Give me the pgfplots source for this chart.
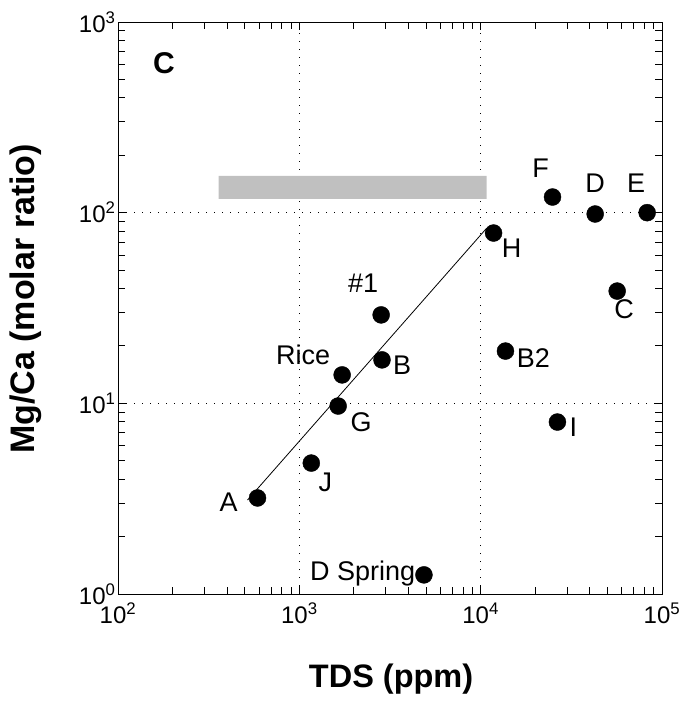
\documentclass[border=0pt]{standalone}
\usepackage{fontspec}
\setmainfont{Liberation Sans}
\usepackage{pgfplots}
\pgfplotsset{compat=1.18}
\definecolor{boxgray}{RGB}{192,192,192}
\begin{document}
\begin{tikzpicture}
\begin{axis}[
  scale only axis,
  width=544pt, height=572pt,
  xmode=log, ymode=log,
  xmin=100, xmax=100000, ymin=1, ymax=1000,
  xtick={100,1000,10000,100000},
  xticklabels={10\textsuperscript{2},10\textsuperscript{3},10\textsuperscript{4},10\textsuperscript{5}},
  ytick={1,10,100,1000},
  yticklabels={10\textsuperscript{0},10\textsuperscript{1},10\textsuperscript{2},10\textsuperscript{3}},
  tick label style={font=\fontsize{24}{28}\selectfont},
  xticklabel style={yshift=-5pt},
  yticklabel style={xshift=1pt},
  axis line style={line width=1pt},
  major tick length=8pt, minor tick length=7pt,
  every tick/.style={black, line width=0.9pt},
  grid=major,
  major grid style={black, line width=1pt, dash pattern=on 1.2pt off 6.8pt},
  xlabel={TDS (ppm)},
  ylabel={Mg/Ca (molar ratio)},
  every axis x label/.style={at={(axis description cs:0.502,-0.149)}, anchor=center, font=\fontsize{32.5}{36}\selectfont\bfseries},
  every axis y label/.style={at={(axis description cs:-0.169,0.516)}, anchor=center, rotate=90, font=\fontsize{34}{38}\selectfont\bfseries},
  clip=false,
]
\addplot[fill=boxgray, draw=none] coordinates {(359,118) (10800,118) (10800,156) (359,156) (359,118)};
\addplot[black, line width=0.8pt] coordinates {(518,3.11) (10800,83)};
\addplot[only marks, mark=*, mark size=8.5pt, black] coordinates {
(588,3.19) (1164,4.86) (1637,9.68) (1722,14.1) (2857,16.9) (2826,29.1)
(4866,1.26) (11780,78.2) (24900,120.8) (42800,98.4) (82800,100)
(56600,38.8) (13700,18.8) (26500,7.98)
};
\begin{scope}[every node/.style={font=\fontsize{27}{31}\selectfont, inner sep=0pt, anchor=center}]
\node[xshift=-29pt, yshift=-4pt] at (axis cs:588,3.19) {A};
\node[xshift=14pt, yshift=-19pt] at (axis cs:1164,4.86) {J};
\node[xshift=23pt, yshift=-16pt] at (axis cs:1637,9.68) {G};
\node[xshift=-39pt, yshift=20pt] at (axis cs:1722,14.1) {Rice};
\node[xshift=20pt, yshift=-5pt] at (axis cs:2857,16.9) {B};
\node[xshift=-18pt, yshift=32pt] at (axis cs:2826,29.1) {\#1};
\node[anchor=base east, xshift=-8.5pt, yshift=-6pt] at (axis cs:4866,1.26) {D Spring};
\node[xshift=18pt, yshift=-15pt] at (axis cs:11780,78.2) {H};
\node[xshift=-12pt, yshift=29pt] at (axis cs:24900,120.8) {F};
\node[xshift=0pt, yshift=31pt] at (axis cs:42800,98.4) {D};
\node[xshift=-11pt, yshift=29pt] at (axis cs:82800,100) {E};
\node[xshift=7pt, yshift=-18pt] at (axis cs:56600,38.8) {C};
\node[xshift=28pt, yshift=-7pt] at (axis cs:13700,18.8) {B2};
\node[xshift=16pt, yshift=-5pt] at (axis cs:26500,7.98) {I};
\end{scope}
\node[font=\fontsize{30}{34}\selectfont\bfseries, inner sep=0pt] at (axis cs:179,609) {C};
\end{axis}
\path (current axis.south west) ++(-118pt,-108pt) rectangle ++(686pt,702pt);
\end{tikzpicture}
\end{document}
